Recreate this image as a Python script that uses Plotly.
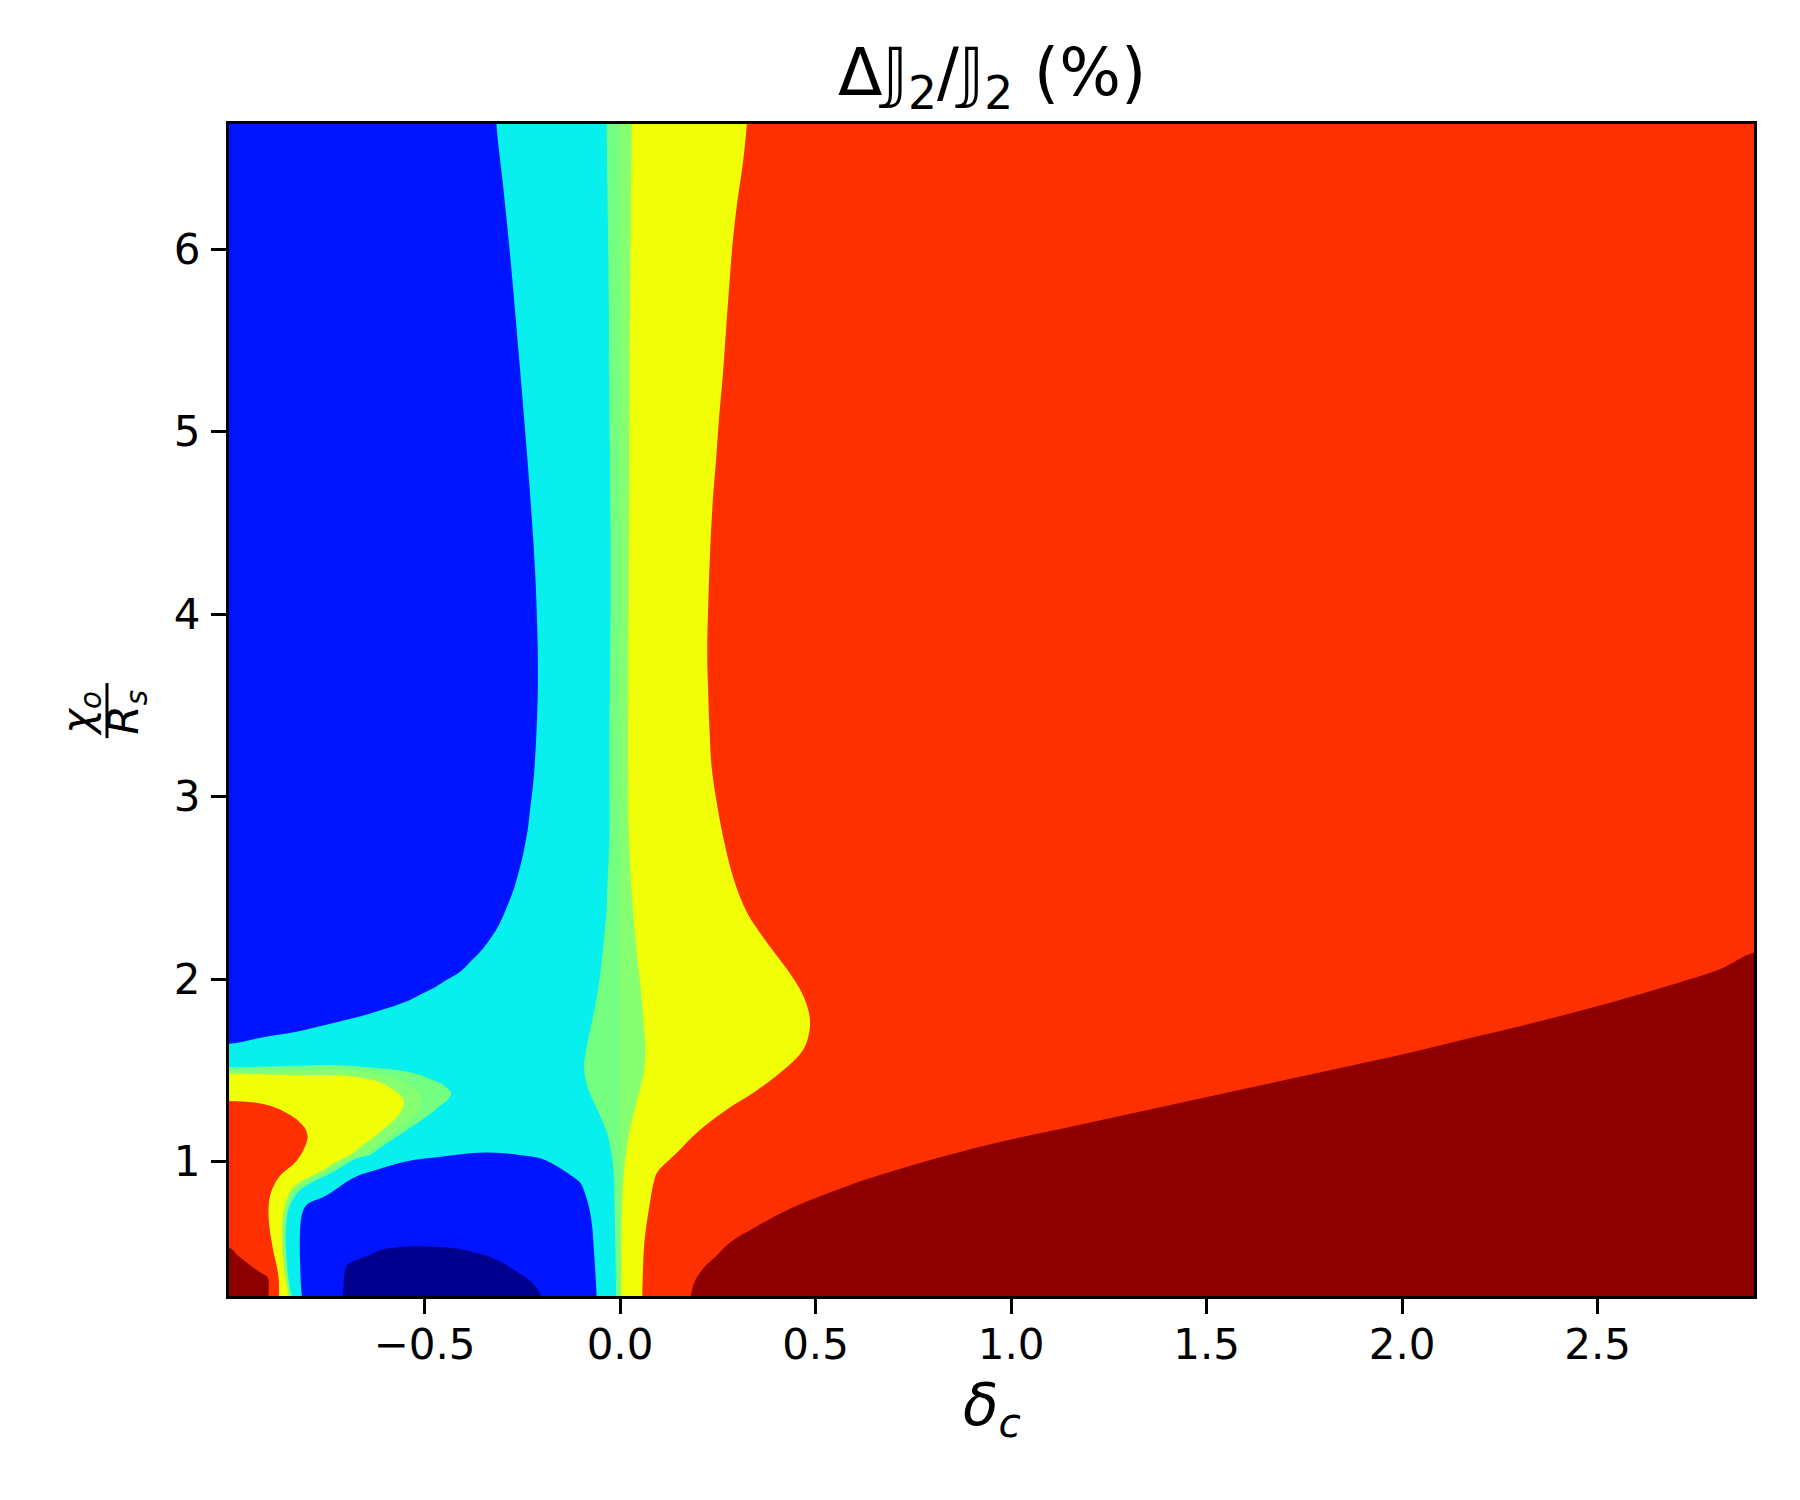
import plotly.graph_objects as go

# ---------------- axes ----------------
X_RANGE = [-1.0, 2.9]
Y_RANGE = [0.263, 6.685]
x_tick_vals = [-0.5, 0.0, 0.5, 1.0, 1.5, 2.0, 2.5]
x_tick_text = ["\u22120.5", "0.0", "0.5", "1.0", "1.5", "2.0", "2.5"]
y_tick_vals = [1, 2, 3, 4, 5, 6]
y_tick_text = ["1", "2", "3", "4", "5", "6"]

# ---------------- filled-contour level colours (jet) ----------------
C_NAVY = "#00008E"
C_BLUE = "#0014FF"
C_CYAN = "#07F0EE"
C_GREEN1 = "#75FF81"
C_GREEN2 = "#86FF71"
C_YELLOW = "#F0FF08"
C_RED = "#FF3000"
C_DARKRED = "#8E0000"

# ---------------- contour boundaries (delta_c, chi_o/R_s) ----------------
# yellow | red boundary (central band, right side), top -> bottom
yellow_red_edge = [
    (0.324, 6.685), (0.314, 6.467), (0.301, 6.275), (0.288, 6.034), (0.280, 5.817),
    (0.271, 5.552), (0.263, 5.311), (0.254, 5.094), (0.246, 4.853), (0.237, 4.612),
    (0.230, 4.323), (0.226, 4.082), (0.223, 3.793), (0.225, 3.600), (0.229, 3.360),
    (0.234, 3.167), (0.246, 2.983), (0.265, 2.764), (0.291, 2.545), (0.325, 2.363),
    (0.376, 2.199), (0.427, 2.053), (0.469, 1.906), (0.486, 1.761), (0.469, 1.615),
    (0.410, 1.487), (0.342, 1.378), (0.274, 1.286), (0.197, 1.159), (0.146, 1.049),
    (0.095, 0.940), (0.086, 0.885), (0.078, 0.794), (0.071, 0.702), (0.065, 0.611),
    (0.061, 0.520), (0.057, 0.263),
]
# green | yellow boundary (central band), top -> bottom
green_yellow_edge = [
    (0.030, 6.685), (0.028, 6.185), (0.025, 5.621), (0.024, 4.926), (0.022, 4.078),
    (0.021, 2.983), (0.024, 2.709), (0.031, 2.436), (0.042, 2.162), (0.053, 1.943),
    (0.061, 1.742), (0.065, 1.615), (0.061, 1.487), (0.053, 1.414), (0.040, 1.304),
    (0.027, 1.195), (0.017, 1.067), (0.008, 0.885), (0.004, 0.611), (0.003, 0.263),
]
# split between the two green levels (central band)
green_split_edge = [(0.0, 6.685), (0.0, 0.263)]
# cyan | green boundary (central band), top -> bottom
cyan_green_edge = [
    (-0.034, 6.685), (-0.032, 6.316), (-0.029, 5.791), (-0.027, 5.145), (-0.024, 4.204),
    (-0.027, 3.213), (-0.027, 2.746), (-0.032, 2.527), (-0.034, 2.381), (-0.041, 2.217),
    (-0.052, 1.998), (-0.065, 1.834), (-0.075, 1.735), (-0.086, 1.615), (-0.092, 1.523),
    (-0.088, 1.450), (-0.078, 1.378), (-0.062, 1.304), (-0.047, 1.232), (-0.032, 1.149),
    (-0.023, 1.056), (-0.017, 0.958), (-0.014, 0.766), (-0.010, 0.263),
]
# blue | cyan boundary (upper-left blue region), top -> left edge
blue_cyan_edge = [
    (-0.316, 6.685), (-0.299, 6.347), (-0.282, 5.986), (-0.265, 5.576), (-0.248, 5.142),
    (-0.231, 4.685), (-0.216, 4.179), (-0.210, 3.624), (-0.220, 3.119), (-0.230, 2.928),
    (-0.236, 2.819), (-0.249, 2.673), (-0.262, 2.563), (-0.275, 2.472), (-0.292, 2.381),
    (-0.309, 2.299), (-0.330, 2.226), (-0.356, 2.153), (-0.381, 2.098), (-0.407, 2.043),
    (-0.441, 1.998), (-0.475, 1.952), (-0.509, 1.916), (-0.543, 1.879), (-0.577, 1.852),
    (-0.611, 1.830), (-0.661, 1.797), (-0.746, 1.752), (-0.831, 1.709), (-0.916, 1.679),
    (-1.0, 1.645),
]
# lower-left loop: cyan | green boundary, bottom (stem) -> left edge
loop_cyan_green = [
    (-0.840, 0.263), (-0.844, 0.301), (-0.848, 0.356), (-0.852, 0.447), (-0.855, 0.557),
    (-0.854, 0.648), (-0.850, 0.721), (-0.841, 0.776), (-0.831, 0.812), (-0.818, 0.845),
    (-0.801, 0.870), (-0.780, 0.894), (-0.754, 0.921), (-0.729, 0.949), (-0.695, 0.995),
    (-0.662, 1.024), (-0.636, 1.040), (-0.619, 1.067), (-0.594, 1.104), (-0.568, 1.140),
    (-0.543, 1.177), (-0.517, 1.213), (-0.492, 1.250), (-0.466, 1.296), (-0.449, 1.323),
    (-0.436, 1.350), (-0.432, 1.378), (-0.441, 1.400), (-0.458, 1.427), (-0.483, 1.450),
    (-0.517, 1.478), (-0.568, 1.500), (-0.653, 1.518), (-0.738, 1.529), (-0.831, 1.524),
    (-0.916, 1.519), (-1.0, 1.516),
]
# lower-left loop: split between the two green levels, bottom -> left edge
loop_green_split = [
    (-0.844, 0.263), (-0.850, 0.356), (-0.855, 0.465), (-0.859, 0.575), (-0.858, 0.666),
    (-0.854, 0.730), (-0.847, 0.784), (-0.838, 0.824), (-0.825, 0.856), (-0.808, 0.882),
    (-0.784, 0.907), (-0.759, 0.935), (-0.728, 0.973), (-0.692, 1.014), (-0.653, 1.040),
    (-0.623, 1.085), (-0.598, 1.122), (-0.572, 1.167), (-0.547, 1.213), (-0.527, 1.250),
    (-0.513, 1.286), (-0.507, 1.323), (-0.510, 1.359), (-0.526, 1.396), (-0.551, 1.432),
    (-0.585, 1.463), (-0.636, 1.487), (-0.687, 1.500), (-0.738, 1.505), (-0.831, 1.500),
    (-1.0, 1.497),
]
# lower-left loop: green | yellow boundary, bottom -> left edge
loop_green_yellow = [
    (-0.848, 0.263), (-0.852, 0.319), (-0.858, 0.392), (-0.862, 0.483), (-0.864, 0.575),
    (-0.863, 0.666), (-0.859, 0.739), (-0.852, 0.794), (-0.844, 0.834), (-0.831, 0.866),
    (-0.814, 0.894), (-0.789, 0.921), (-0.763, 0.949), (-0.729, 0.995), (-0.687, 1.040),
    (-0.662, 1.085), (-0.636, 1.122), (-0.611, 1.167), (-0.585, 1.213), (-0.568, 1.250),
    (-0.555, 1.296), (-0.553, 1.332), (-0.560, 1.359), (-0.581, 1.396), (-0.611, 1.432),
    (-0.653, 1.456), (-0.696, 1.469), (-0.738, 1.474), (-0.831, 1.474), (-0.916, 1.478),
    (-1.0, 1.481),
]
# lower-left red lobe: yellow | red boundary, left edge -> bottom
red_lobe_edge = [
    (-1.0, 1.332), (-0.933, 1.323), (-0.882, 1.296), (-0.840, 1.250), (-0.818, 1.213),
    (-0.804, 1.177), (-0.799, 1.131), (-0.805, 1.085), (-0.818, 1.031), (-0.835, 0.985),
    (-0.856, 0.949), (-0.873, 0.912), (-0.886, 0.866), (-0.895, 0.812), (-0.899, 0.739),
    (-0.897, 0.648), (-0.892, 0.575), (-0.886, 0.502), (-0.878, 0.429), (-0.873, 0.356),
    (-0.872, 0.263),
]
# lower blue pocket: cyan | blue boundary, bottom-left -> bottom-right
lower_blue_edge = [
    (-0.814, 0.263), (-0.816, 0.319), (-0.818, 0.429), (-0.819, 0.557), (-0.817, 0.666),
    (-0.812, 0.721), (-0.804, 0.757), (-0.793, 0.776), (-0.771, 0.794), (-0.746, 0.821),
    (-0.720, 0.858), (-0.695, 0.894), (-0.661, 0.930), (-0.618, 0.958), (-0.576, 0.985),
    (-0.525, 1.009), (-0.474, 1.022), (-0.406, 1.040), (-0.346, 1.049), (-0.295, 1.045),
    (-0.253, 1.034), (-0.202, 1.016), (-0.157, 0.969), (-0.126, 0.925), (-0.102, 0.885),
    (-0.089, 0.821), (-0.079, 0.748), (-0.071, 0.639), (-0.067, 0.520), (-0.063, 0.392),
    (-0.060, 0.263),
]
# navy pocket: blue | navy boundary, bottom-left -> bottom-right
navy_edge = [
    (-0.708, 0.263), (-0.705, 0.374), (-0.699, 0.432), (-0.678, 0.456), (-0.644, 0.483),
    (-0.610, 0.516), (-0.576, 0.529), (-0.525, 0.535), (-0.474, 0.533), (-0.423, 0.524),
    (-0.372, 0.502), (-0.329, 0.475), (-0.295, 0.438), (-0.261, 0.392), (-0.227, 0.341),
    (-0.202, 0.263),
]
# dark-red corner, lower left: red | dark red boundary, left edge -> bottom
darkred_left_edge = [
    (-1.0, 0.529), (-0.976, 0.483), (-0.950, 0.438), (-0.920, 0.392), (-0.901, 0.365),
    (-0.899, 0.263),
]
# dark-red region, lower right: red | dark red boundary, bottom -> right edge
darkred_right_edge = [
    (0.181, 0.263), (0.188, 0.328), (0.199, 0.374), (0.218, 0.427), (0.243, 0.475),
    (0.282, 0.557), (0.342, 0.635), (0.397, 0.702), (0.461, 0.766), (0.537, 0.830),
    (0.630, 0.903), (0.771, 0.995), (0.947, 1.095), (1.123, 1.177), (1.299, 1.259),
    (1.475, 1.341), (1.651, 1.423), (1.827, 1.505), (2.003, 1.587), (2.179, 1.679),
    (2.355, 1.770), (2.531, 1.870), (2.707, 1.980), (2.813, 2.053), (2.9, 2.144),
]

# ---------------- build layered filled regions ----------------
PAD = 0.1
XL, XR = X_RANGE[0] - PAD, X_RANGE[1] + PAD
YB, YT = Y_RANGE[0] - PAD, Y_RANGE[1] + PAD


def sublevel_polygon(right_edge, loop_edge):
    """Region left of a central edge, minus the part outside a lower-left loop edge."""
    pts = [(XL, YT), (right_edge[0][0], YT)]
    pts += right_edge
    pts += [(right_edge[-1][0], YB), (loop_edge[0][0], YB)]
    pts += loop_edge
    pts += [(XL, loop_edge[-1][1])]
    return pts


regions = []
# value <= yellow
regions.append((C_YELLOW, [(XL, YT), (yellow_red_edge[0][0], YT)] + yellow_red_edge
                + [(yellow_red_edge[-1][0], YB), (red_lobe_edge[-1][0], YB)]
                + red_lobe_edge[::-1] + [(XL, red_lobe_edge[0][1])]))
# value <= upper green
regions.append((C_GREEN2, sublevel_polygon(green_yellow_edge, loop_green_yellow)))
# value <= lower green
regions.append((C_GREEN1, sublevel_polygon(green_split_edge, loop_green_split)))
# value <= cyan
regions.append((C_CYAN, sublevel_polygon(cyan_green_edge, loop_cyan_green)))
# value <= blue
regions.append((C_BLUE, [(XL, YT), (blue_cyan_edge[0][0], YT)] + blue_cyan_edge
                + [(XL, blue_cyan_edge[-1][1])]))
regions.append((C_BLUE, [(lower_blue_edge[0][0], YB)] + lower_blue_edge
                + [(lower_blue_edge[-1][0], YB)]))
# value <= navy
regions.append((C_NAVY, [(navy_edge[0][0], YB)] + navy_edge + [(navy_edge[-1][0], YB)]))
# value >= dark red
regions.append((C_DARKRED, [(XL, darkred_left_edge[0][1])] + darkred_left_edge
                + [(darkred_left_edge[-1][0], YB), (XL, YB)]))
regions.append((C_DARKRED, darkred_right_edge
                + [(XR, darkred_right_edge[-1][1]), (XR, YB), (darkred_right_edge[0][0], YB)]))

fig = go.Figure()
for color, pts in regions:
    fig.add_trace(go.Scatter(
        x=[p[0] for p in pts], y=[p[1] for p in pts],
        mode="lines", fill="toself", fillcolor=color,
        line=dict(width=0, color=color, shape="spline", smoothing=1.0),
        hoverinfo="skip", showlegend=False,
    ))

FONT = "DejaVu Sans"
axis_common = dict(
    showgrid=False, zeroline=False, showline=True, linecolor="black", linewidth=3.3,
    mirror=True, ticks="outside", ticklen=15, tickwidth=3.3, tickcolor="black",
    tickfont=dict(family=FONT, size=42, color="black"),
)
fig.update_xaxes(range=X_RANGE, tickvals=x_tick_vals, ticktext=x_tick_text,
                 ticklabelstandoff=-6, **axis_common)
fig.update_yaxes(range=Y_RANGE, tickvals=y_tick_vals, ticktext=y_tick_text,
                 ticklabelstandoff=2, **axis_common)

annotations = [
    dict(text="\u0394\U0001D541<sub>2</sub>/\U0001D541<sub>2</sub> (%)", x=0.5, y=1.040,
         xref="paper", yref="paper", xanchor="center", yanchor="middle", showarrow=False,
         font=dict(family=FONT, size=65, color="black")),
    dict(text="<i>\u03b4<sub>c</sub></i>", x=0.5, y=-0.096,
         xref="paper", yref="paper", xanchor="center", yanchor="middle", showarrow=False,
         font=dict(family=FONT, size=58, color="black")),
    dict(text="<i>\u03c7<sub>o</sub></i>", x=-0.0975, y=0.497, textangle=-90,
         xref="paper", yref="paper", xanchor="center", yanchor="middle", showarrow=False,
         font=dict(family=FONT, size=42, color="black")),
    dict(text="<i>R<sub>s</sub></i>", x=-0.0675, y=0.498, textangle=-90,
         xref="paper", yref="paper", xanchor="center", yanchor="middle", showarrow=False,
         font=dict(family=FONT, size=42, color="black")),
]
fig.update_layout(
    width=1800, height=1500, autosize=False,
    margin=dict(l=221, r=54, t=116, b=212, pad=0),
    paper_bgcolor="white", plot_bgcolor=C_RED,
    annotations=annotations,
    shapes=[dict(type="line", xref="paper", yref="paper", x0=-0.0800, x1=-0.0800,
                 y0=0.476, y1=0.523, line=dict(color="black", width=3))],
    showlegend=False, hovermode=False,
)
fig.write_html("out.html")
